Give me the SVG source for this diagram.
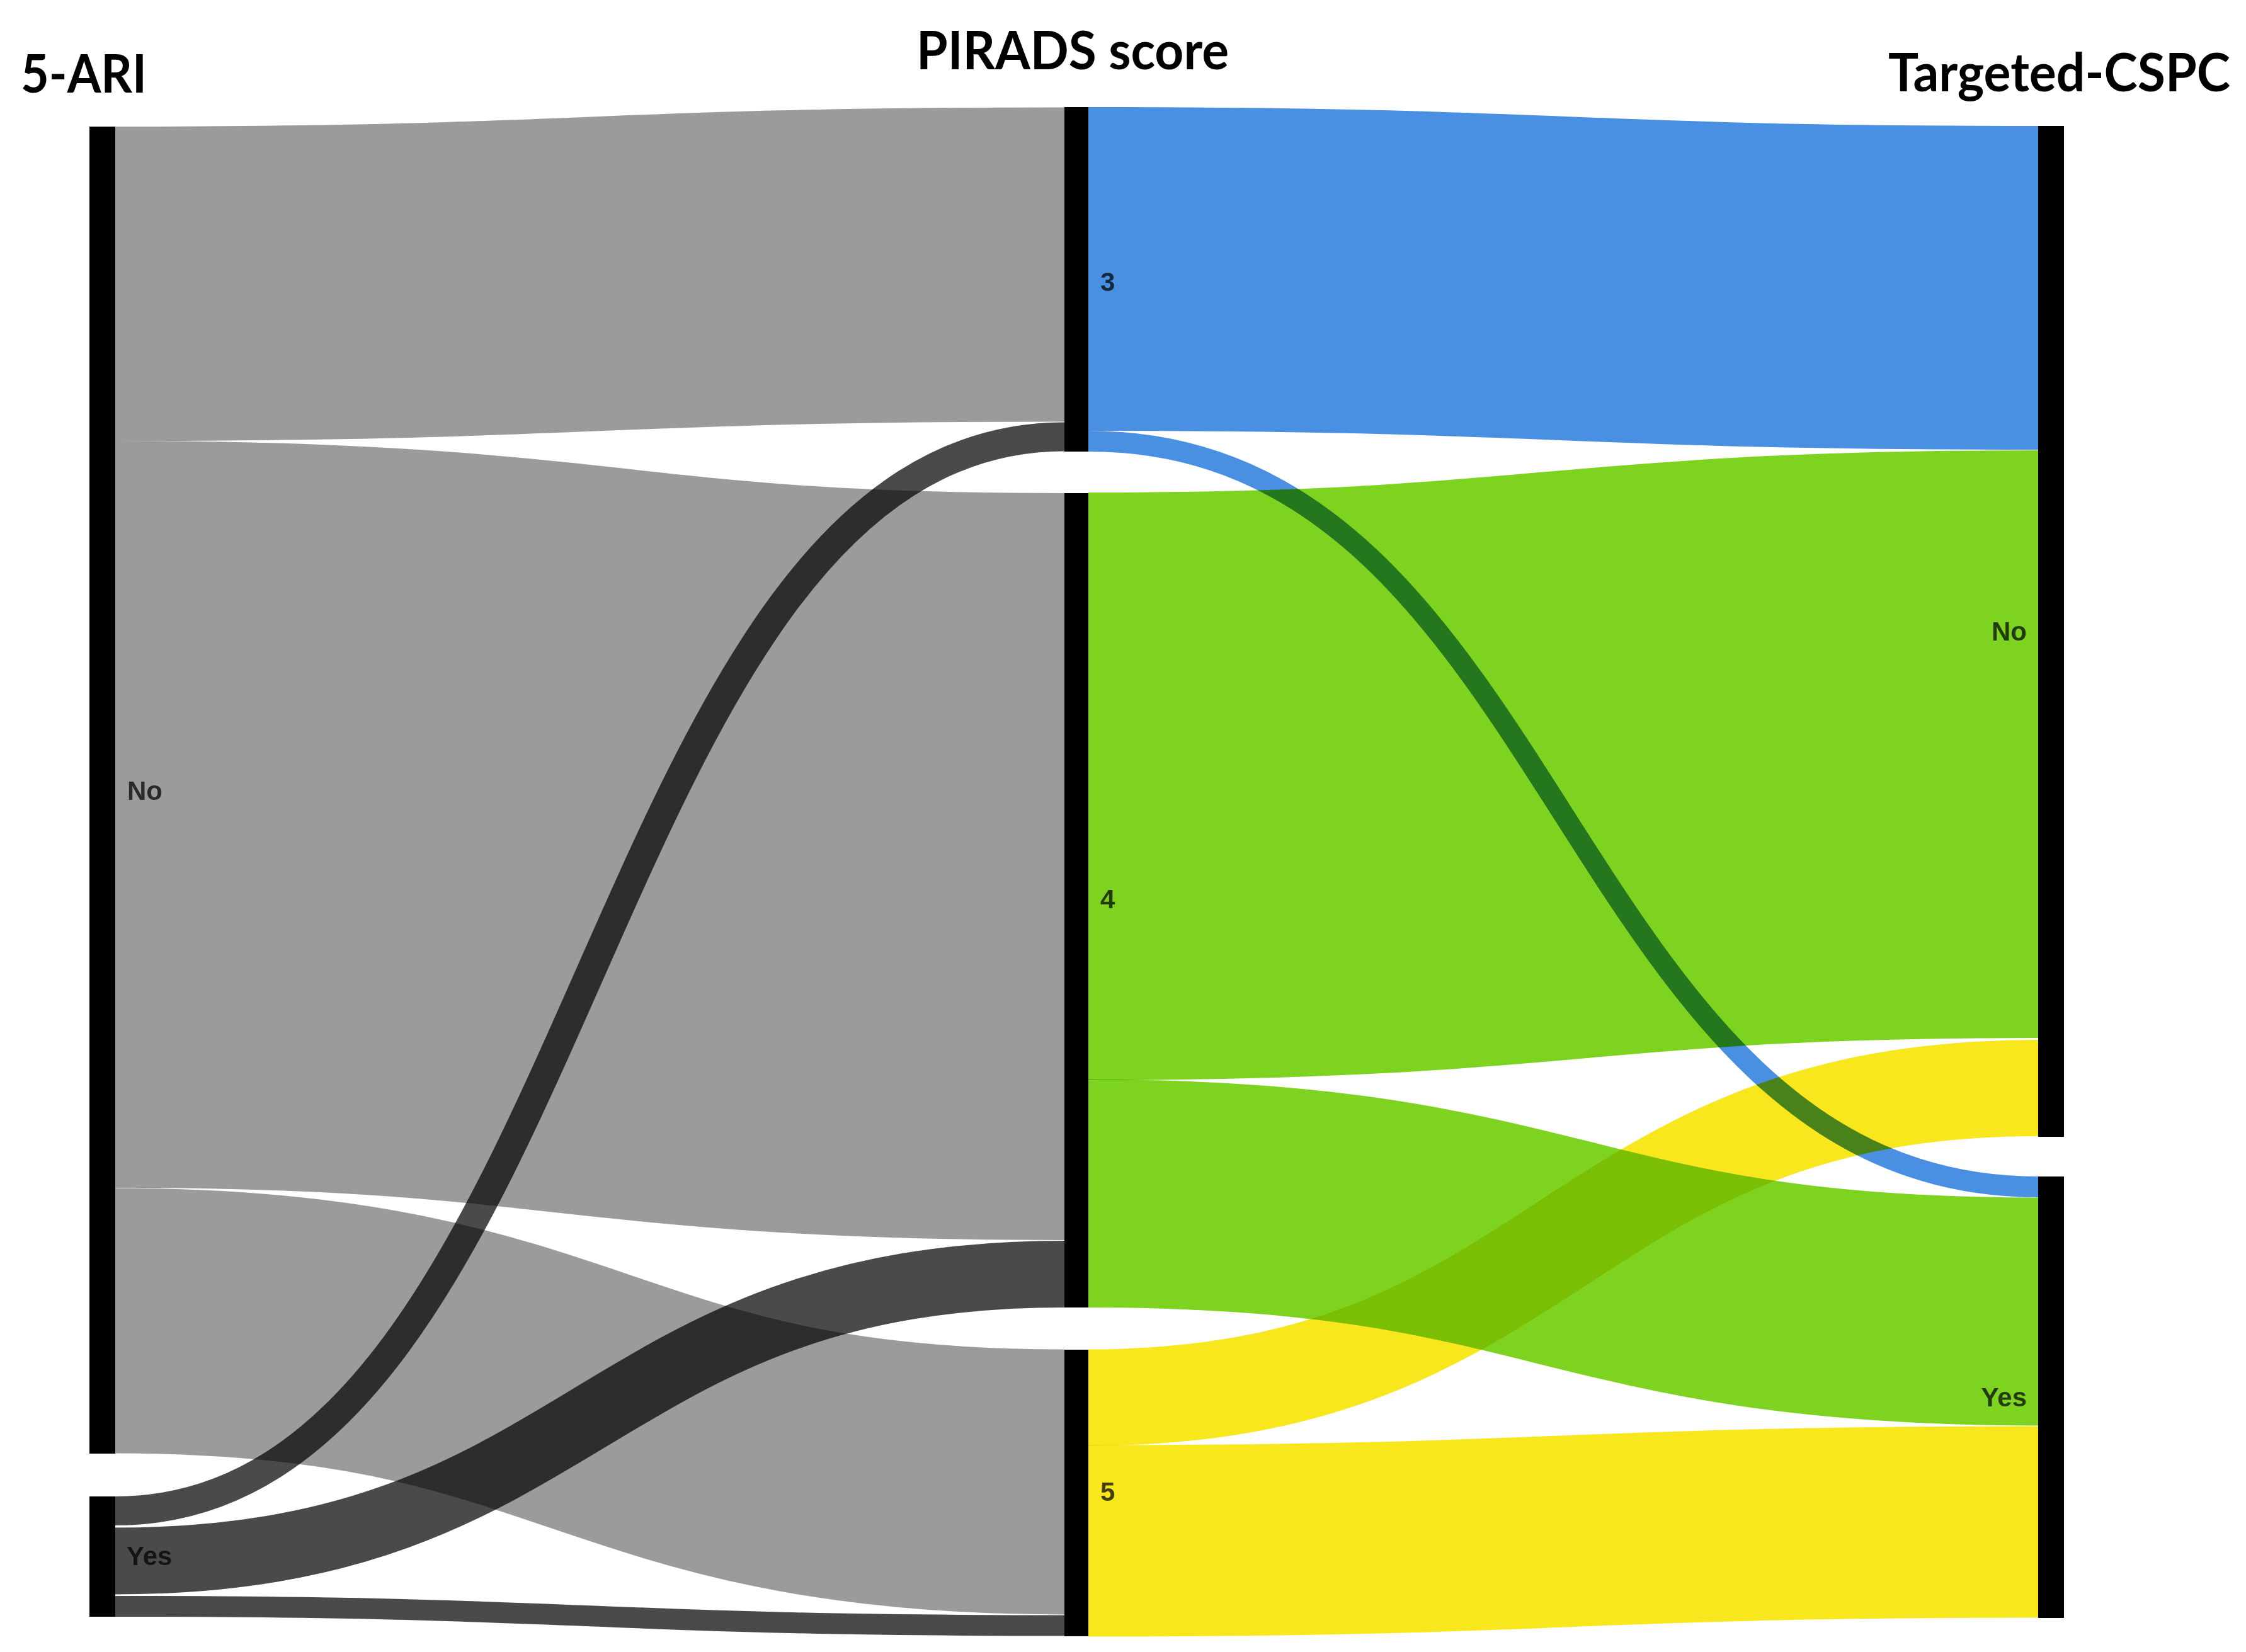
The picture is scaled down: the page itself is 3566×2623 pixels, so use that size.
<svg xmlns="http://www.w3.org/2000/svg" width="3566" height="2623" viewBox="0 0 3566 2623">
<style>
.link{mix-blend-mode:multiply;fill:none;stroke-linecap:butt;}
.gray{stroke:#9B9B9B;}
.dark{stroke:#4A4A4A;}
.blue{stroke:#4A90E2;}
.green{stroke:#7ED321;}
.yellow{stroke:#F8E71C;}
.bar{fill:#000;}
.title{font-family:Lato,"Liberation Sans",sans-serif;font-weight:bold;font-size:84px;fill:#000;}
.lbl{font-family:"Liberation Sans",Arial,sans-serif;font-weight:bold;font-size:42px;fill:#000;fill-opacity:0.72;}
</style>
<rect x="0" y="0" width="3566" height="2623" fill="#fff"/>
<g id="connectors">
<path class="link gray" stroke-width="499" d="M183,450.5 C936.5,450.5 936.5,420 1690,420"/>
<path class="link gray" stroke-width="1186" d="M183,1293 C936.5,1293 936.5,1376 1690,1376"/>
<path class="link gray" stroke-width="421" d="M183,2097 C936.5,2097 936.5,2353 1690,2353"/>
<path class="link dark" stroke-width="46" d="M183,2399 C936.5,2399 936.5,693.5 1690,693.5"/>
<path class="link dark" stroke-width="106" d="M183,2478.5 C936.5,2478.5 936.5,2023 1690,2023"/>
<path class="link dark" stroke-width="33" d="M183,2550.5 C936.5,2550.5 936.5,2581 1690,2581"/>
<path class="link blue" stroke-width="514" d="M1728,427 C2482,427 2482,457 3236,457"/>
<path class="link blue" stroke-width="33" d="M1728,700.5 C2482,700.5 2482,1884.5 3236,1884.5"/>
<path class="link green" stroke-width="933" d="M1728,1248.5 C2482,1248.5 2482,1181.5 3236,1181.5"/>
<path class="link green" stroke-width="362" d="M1728,1895 C2482,1895 2482,2082.5 3236,2082.5"/>
<path class="link yellow" stroke-width="153" d="M1728,2219 C2482,2219 2482,1727.5 3236,1727.5"/>
<path class="link yellow" stroke-width="304" d="M1728,2446.5 C2482,2446.5 2482,2416.5 3236,2416.5"/>
</g>
<g id="title-5ari"><text class="title" x="33" y="147" textLength="200" lengthAdjust="spacingAndGlyphs">5-ARI</text></g>
<g id="title-pirads"><text class="title" x="1455" y="110" textLength="496" lengthAdjust="spacingAndGlyphs">PIRADS score</text></g>
<g id="title-cspc"><text class="title" x="2998" y="145" textLength="543" lengthAdjust="spacingAndGlyphs">Targeted-CSPC</text></g>
<g id="node-ari-no"><rect class="bar" x="142" y="201" width="41" height="2107"/><text class="lbl" x="202" y="1270">No</text></g>
<g id="node-ari-yes"><rect class="bar" x="142" y="2376" width="41" height="191"/><text class="lbl" x="201" y="2485">Yes</text></g>
<g id="node-pirads-3"><rect class="bar" x="1690" y="170" width="38" height="547"/><text class="lbl" x="1747" y="462">3</text></g>
<g id="node-pirads-4"><rect class="bar" x="1690" y="783" width="38" height="1293"/><text class="lbl" x="1747" y="1442">4</text></g>
<g id="node-pirads-5"><rect class="bar" x="1690" y="2143" width="38" height="455"/><text class="lbl" x="1747" y="2383">5</text></g>
<g id="node-cspc-no"><rect class="bar" x="3236" y="200" width="41" height="1605"/><text class="lbl" x="3218" y="1017" text-anchor="end">No</text></g>
<g id="node-cspc-yes"><rect class="bar" x="3236" y="1868" width="41" height="701"/><text class="lbl" x="3218" y="2233" text-anchor="end">Yes</text></g>
</svg>
